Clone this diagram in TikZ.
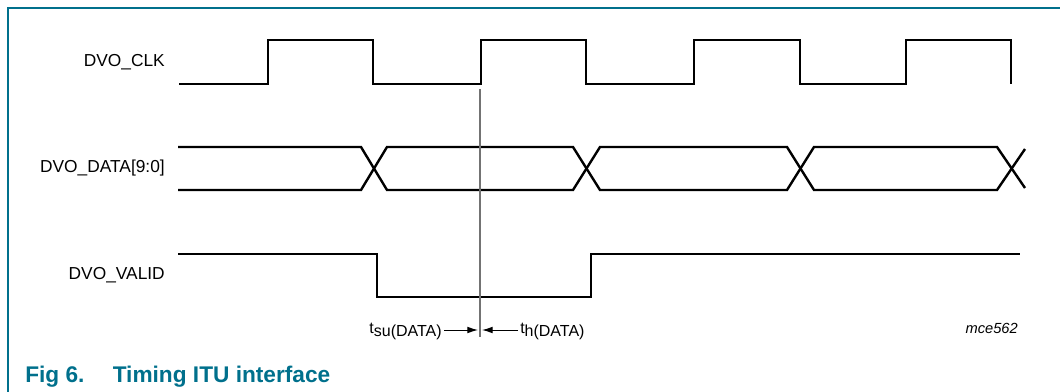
\documentclass[tikz,border=0pt]{standalone}
\usepackage{fontspec}
\usepackage{tikz}
\setmainfont{Liberation Sans}
\definecolor{nxpteal}{rgb}{0.0, 0.44, 0.55}
\definecolor{refgray}{rgb}{0.45, 0.45, 0.45}
\usetikzlibrary{arrows.meta}

\begin{document}
\begin{tikzpicture}[x=0.75pt, y=-0.75pt,
	wave/.style = {line width = 1.8pt, line join = miter},
	signame/.style = {anchor = east, inner sep = 0pt, font = \fontsize{13}{15}\selectfont},
	timelbl/.style = {inner sep = 0pt, font = \fontsize{12}{14}\selectfont},
	tarrow/.style = {-{Latex[length = 8pt, width = 5pt]}, line width = 0.7pt}]
			\useasboundingbox (0,0) rectangle (1060,392);
			\draw[nxpteal, line width = 1.5pt] (8,392) -- (8,8) -- (1060,8);
			
			\node[signame] (clk) at (165,62) {DVO\_CLK};
			\node[signame] (data) at (165,168) {DVO\_DATA[9:0]};
			\node[signame] (valid) at (165,275) {DVO\_VALID};
			
			\draw[wave] (179,84) -- (268,84) -- (268,40) -- (373,40) -- (373,84) -- (481,84) -- (481,40) -- (586,40) -- (586,84) -- (694,84) -- (694,40) -- (800,40) -- (800,84) -- (906,84) -- (906,40) -- (1011,40) -- (1011,84);
			\draw[wave] (178,147) -- (361,147) -- (387,190) -- (573,190) -- (600,147) -- (787,147) -- (814,190) -- (997,190) -- (1025,149);
			\draw[wave] (178,190) -- (361,190) -- (387,147) -- (573,147) -- (600,190) -- (787,190) -- (814,147) -- (997,147) -- (1025,188);
			\draw[wave] (178,254) -- (377,254) -- (377,297) -- (591,297) -- (591,254) -- (1020,254);
			
			\draw[refgray, line width = 0.8pt] (480,89) -- (480,337);
			
			\node[timelbl, anchor = base east] (tsu) at (442,333) {t\raisebox{-0.45ex}{su(DATA)}};
			\node[timelbl, anchor = base west] (th) at (520,333) {t\raisebox{-0.45ex}{h(DATA)}};
			\coordinate (sutip) at (478,330);
			\coordinate (htip) at (482,330);
			\draw[tarrow] (tsu.east |- sutip) ++(2,0) -- (sutip);
			\draw[tarrow] (th.west |- htip) ++(-2,0) -- (htip);
			
			\node[anchor = base east, inner sep = 0pt, font = \fontsize{11}{13}\selectfont\itshape] (mce) at (1018,333) {mce562};
			\node[anchor = base west, inner sep = 0pt, text = nxpteal, font = \fontsize{17}{20}\selectfont\bfseries] (caption) at (25,382) {Fig 6.\hspace{1.25em}Timing ITU interface};
			
			\end{tikzpicture}
\end{document}
